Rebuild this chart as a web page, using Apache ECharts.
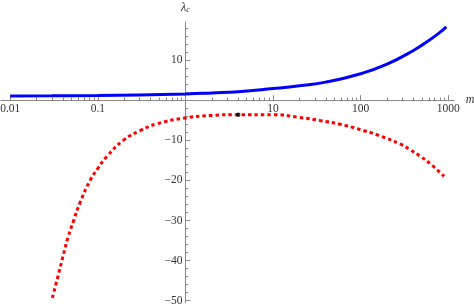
<!DOCTYPE html>
<html><head><meta charset="utf-8">
<script src="https://cdn.jsdelivr.net/npm/echarts@6/dist/echarts.min.js"></script>
<style>html,body{margin:0;padding:0;background:#fff}#c{width:474px;height:307px}</style>
</head><body><div id="c"></div>
<script>
// Data (m on a log axis, lambda_c linear)
const blueM = [0.01, 0.03, 0.1, 0.3, 1, 2, 4, 10, 20, 40, 100, 200, 400, 600, 800, 950];
const blueL = [1.05, 1.08, 1.15, 1.3, 1.55, 1.8, 2.1, 2.9, 3.6, 4.5, 6.6, 9.0, 12.4, 14.9, 16.9, 18.3];
const redM = [0.0303, 0.035, 0.040, 0.046, 0.053, 0.0628, 0.0817, 0.1, 0.127, 0.196, 0.303, 0.471, 0.95, 2, 4, 10, 20, 35, 58, 98, 166, 280, 370, 480, 650, 895];
const redL = [-49.3, -44, -39, -34, -30, -25.5, -20, -17, -14.0, -10.0, -7.6, -5.9, -4.5, -3.8, -3.6, -3.6, -4.3, -5.1, -6.0, -7.3, -8.9, -10.9, -12.4, -14.0, -16.2, -19.0];
const dotM = [4];
const dotL = [-3.6];

const xTickValues = [0.01, 0.1, 10, 100, 1000];
const xTickLabels = ['0.01', '0.1', '10', '100', '1000'];
const xMajorTicks = [0.01, 0.1, 1, 10, 100, 1000];
const xMinorTicks = [];
[0.01, 0.1, 1, 10, 100].forEach(d => { for (let k = 2; k <= 9; k++) xMinorTicks.push(k * d); });
const yTickValues = [-50, -40, -30, -20, -10, 10];
const yTickLabels = ['\u221250', '\u221240', '\u221230', '\u221220', '\u221210', '10'];
const yMajorTicks = [-50, -40, -30, -20, -10, 0, 10];
const yMinorTicks = [];
for (let v = -48; v <= 18; v += 2) if (v % 10 !== 0) yMinorTicks.push(v);

const lg = v => Math.log10(v);
const X_MIN = -2.105, X_MAX = 3.065;
const Y_MIN = -50.5, Y_MAX = 19.5;
const axisColor = '#8a8a8a';
const textColor = '#333';
const font = '"Liberation Serif", "DejaVu Serif", serif';

function xLabel(v) {
  const i = xTickValues.findIndex(t => Math.abs(lg(t) - v) < 1e-6);
  return i >= 0 ? xTickLabels[i] : '';
}
function yLabel(v) {
  const i = yTickValues.findIndex(t => Math.abs(t - v) < 1e-6);
  return i >= 0 ? yTickLabels[i] : '';
}

const chart = echarts.init(document.getElementById('c'), null, {renderer: 'canvas'});
chart.setOption({
  animation: false,
  backgroundColor: '#fff',
  grid: {left: 1, right: 20, top: 22, bottom: 4.3, containLabel: false, outerBoundsMode: 'none'},
  xAxis: [{
    type: 'value', min: X_MIN, max: X_MAX, position: 'bottom',
    axisLine: {show: true, onZero: false, lineStyle: {color: axisColor, width: 1}},
    axisTick: {show: true, inside: true, length: 5, customValues: xMajorTicks.map(lg), lineStyle: {color: axisColor}},
    axisLabel: {show: true, customValues: xTickValues.map(lg), formatter: xLabel, margin: 3,
      color: textColor, fontFamily: font, fontSize: 11.5},
    splitLine: {show: false},
    name: 'm', nameLocation: 'end', nameGap: 8,
    nameTextStyle: {fontFamily: font, fontStyle: 'italic', fontSize: 12, color: textColor, verticalAlign: 'middle'}
  }, {
    type: 'value', min: X_MIN, max: X_MAX, position: 'bottom',
    axisLine: {show: false, onZero: false},
    axisTick: {show: true, inside: true, length: 2.7, customValues: xMinorTicks.map(lg), lineStyle: {color: axisColor}},
    axisLabel: {show: false}, splitLine: {show: false}
  }],
  yAxis: [{
    type: 'value', min: Y_MIN, max: Y_MAX, position: 'left',
    axisLine: {show: true, onZero: false, lineStyle: {color: axisColor, width: 1}},
    axisTick: {show: true, inside: true, length: 5, customValues: yMajorTicks, lineStyle: {color: axisColor}},
    axisLabel: {show: true, customValues: yTickValues, formatter: yLabel, margin: 3,
      color: textColor, fontFamily: font, fontSize: 11.5},
    splitLine: {show: false},
    name: '{a|\u03bb}{b|c}', nameLocation: 'end', nameGap: 8,
    nameTextStyle: {rich: {
      a: {fontFamily: font, fontStyle: 'italic', fontSize: 12, color: textColor},
      b: {fontFamily: font, fontStyle: 'italic', fontSize: 8, color: textColor, verticalAlign: 'bottom', padding: [4, 0, 0, 0]}
    }}
  }, {
    type: 'value', min: Y_MIN, max: Y_MAX, position: 'left',
    axisLine: {show: false, onZero: false},
    axisTick: {show: true, inside: true, length: 2.7, customValues: yMinorTicks, lineStyle: {color: axisColor}},
    axisLabel: {show: false}, splitLine: {show: false}
  }],
  series: [{
    type: 'line', xAxisIndex: 0, yAxisIndex: 0,
    data: blueM.map((m, i) => [lg(m), blueL[i]]),
    showSymbol: false, smooth: 0.5,
    lineStyle: {color: '#0000ff', width: 3}
  }, {
    type: 'line', xAxisIndex: 0, yAxisIndex: 0,
    data: redM.map((m, i) => [lg(m), redL[i]]),
    showSymbol: false, smooth: 0.5,
    lineStyle: {color: '#ff0000', width: 3, type: [3.5, 3]}
  }, {
    type: 'scatter', xAxisIndex: 0, yAxisIndex: 0,
    data: dotM.map((m, i) => [lg(m), dotL[i]]),
    symbol: 'circle', symbolSize: 4.5,
    itemStyle: {color: '#000'}, z: 5
  }]
});

// Move the axes so they cross at m = 1 and lambda = 0 (like the reference)
const gridLeftPx = chart.convertToPixel({xAxisIndex: 0}, X_MIN);
const zeroXPx = chart.convertToPixel({xAxisIndex: 0}, 0);
const gridBottomPx = chart.convertToPixel({yAxisIndex: 0}, Y_MIN);
const zeroYPx = chart.convertToPixel({yAxisIndex: 0}, 0);
const yOff = -(zeroXPx - gridLeftPx);
const xOff = -(gridBottomPx - zeroYPx);
chart.setOption({
  xAxis: [{offset: xOff}, {offset: xOff}],
  yAxis: [{offset: yOff}, {offset: yOff}]
});
</script>
</body></html>
